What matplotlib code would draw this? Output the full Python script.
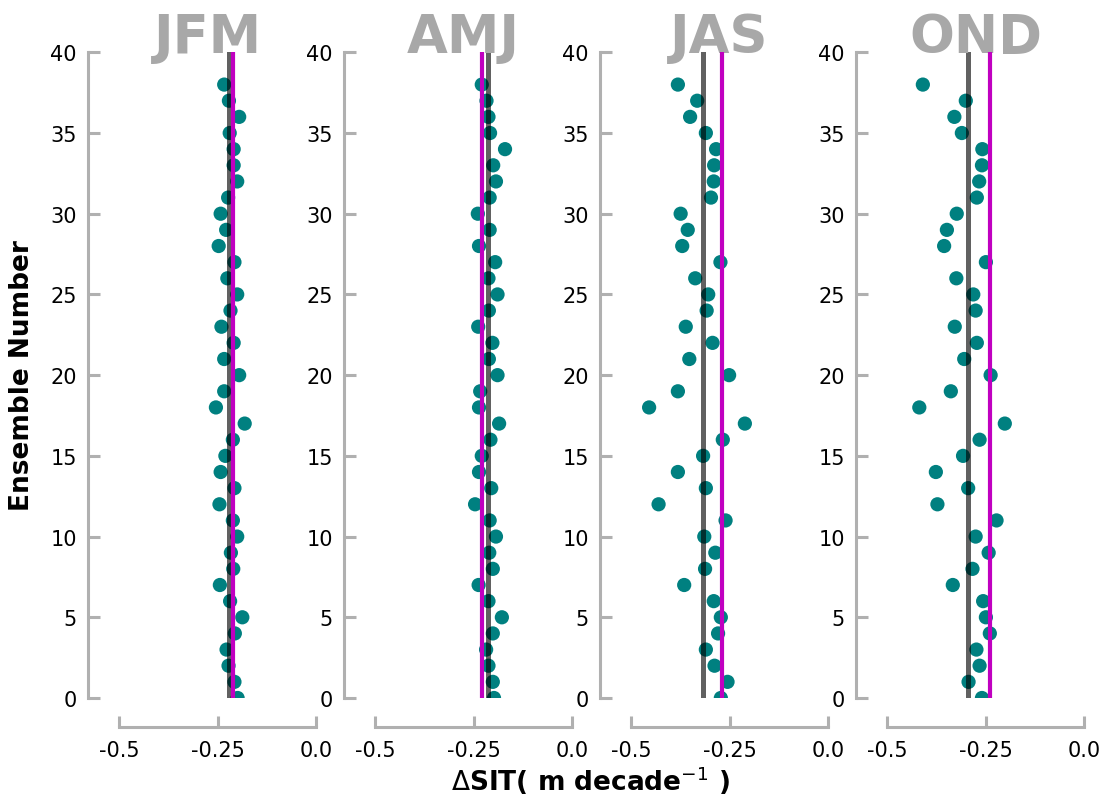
import numpy as np
from matplotlib import pyplot as plt

plt.rcParams['font.family'] = ['DejaVu Sans']
plt.rcParams['axes.unicode_minus'] = False

SEASONS = ['JFM', 'AMJ', 'JAS', 'OND']
ENSEMBLE = list(range(39))

# trend per ensemble member, member 0 first
JFM = [-0.199, -0.207, -0.222, -0.227, -0.206, -0.187, -0.218, -0.244, -0.210, -0.216,
       -0.200, -0.211, -0.245, -0.207, -0.242, -0.230, -0.211, -0.181, -0.254, -0.233,
       -0.195, -0.233, -0.209, -0.240, -0.217, -0.200, -0.225, -0.207, -0.247, -0.228,
       -0.242, -0.223, -0.200, -0.209, -0.209, -0.219, -0.195, -0.221, -0.233]
AMJ = [-0.198, -0.201, -0.212, -0.218, -0.201, -0.178, -0.212, -0.237, -0.201, -0.210,
       -0.193, -0.209, -0.246, -0.205, -0.236, -0.229, -0.207, -0.185, -0.236, -0.233,
       -0.189, -0.211, -0.202, -0.238, -0.211, -0.189, -0.212, -0.195, -0.236, -0.209,
       -0.239, -0.209, -0.193, -0.200, -0.170, -0.208, -0.212, -0.217, -0.229]
JAS = [-0.272, -0.255, -0.288, -0.310, -0.279, -0.272, -0.290, -0.365, -0.312, -0.286,
       -0.314, -0.260, -0.430, -0.310, -0.381, -0.317, -0.267, -0.211, -0.454, -0.381,
       -0.251, -0.352, -0.293, -0.361, -0.308, -0.304, -0.337, -0.273, -0.370, -0.356,
       -0.374, -0.297, -0.290, -0.289, -0.284, -0.310, -0.350, -0.332, -0.381]
OND = [-0.259, -0.293, -0.265, -0.273, -0.239, -0.249, -0.256, -0.333, -0.283, -0.242,
       -0.275, -0.222, -0.372, -0.294, -0.376, -0.307, -0.265, -0.201, -0.418, -0.338,
       -0.237, -0.304, -0.272, -0.328, -0.275, -0.281, -0.324, -0.249, -0.355, -0.348,
       -0.323, -0.272, -0.266, -0.259, -0.258, -0.310, -0.329, -0.300, -0.409]

ENS_MEAN = [-0.221, -0.212, -0.318, -0.294]
OBS = [-0.211, -0.228, -0.269, -0.238]

X_TICKS = [-0.5, -0.25, 0.0]
X_TICKLABELS = ['-0.5', '-0.25', '0.0']
Y_TICKS = list(range(0, 41, 5))

W, H = 1104, 803
GREY = '#b0b0b0'

fig = plt.figure(figsize=(W / 100, H / 100), dpi=100)

for i, (name, vals) in enumerate(zip(SEASONS, [JFM, AMJ, JAS, OND])):
    left = 99.3 + 256 * i
    ax = fig.add_axes([left / W, (H - 699) / H, 216.7 / W, 645.7 / H])
    ax.scatter(vals, ENSEMBLE, s=105, color='#008080', edgecolors='none', zorder=2)
    ax.axvline(ENS_MEAN[i], color='k', alpha=0.62, lw=3.6, zorder=3)
    ax.axvline(OBS[i], color='#c000c0', lw=3.0, zorder=4)
    ax.set_xlim(-0.55, 0.0)
    ax.set_ylim(0, 40)
    ax.set_xticks(X_TICKS)
    ax.set_xticklabels(X_TICKLABELS)
    ax.set_yticks(Y_TICKS)
    for side in ['top', 'right']:
        ax.spines[side].set_visible(False)
    ax.spines['left'].set_position(('outward', 8.1))
    ax.spines['bottom'].set_position(('outward', 21))
    ax.spines['left'].set_bounds(0, 40)
    ax.spines['bottom'].set_bounds(-0.5, 0.0)
    for side in ['left', 'bottom']:
        ax.spines[side].set_color(GREY)
        ax.spines[side].set_linewidth(2.2)
    ax.tick_params(axis='y', direction='in', length=8.4, width=2.2, color=GREY,
                   labelsize=15, pad=8)
    ax.tick_params(axis='x', direction='in', length=8, width=2.2, color=GREY,
                   labelsize=15, pad=9)
    ax.set_title(name, fontsize=38, fontweight='bold', color='#a8a8a8', pad=0, y=1.0)
    ax.patch.set_alpha(0)

fig.text(22 / W, 1 - 376 / H, 'Ensemble Number', rotation=90, fontsize=19,
         fontweight='bold', ha='center', va='center')
fig.text(590 / W, 1 - 781 / H, r'$\Delta$SIT( m decade$^{-1}$ )', fontsize=19,
         fontweight='bold', ha='center', va='center')

plt.savefig('out.png', dpi=100)
plt.close()
